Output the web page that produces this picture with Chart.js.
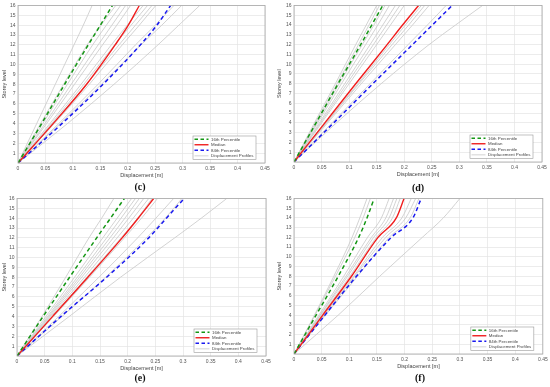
<!DOCTYPE html>
<html>
<head>
<meta charset="utf-8">
<script src="https://cdn.jsdelivr.net/npm/chart.js@4.4.1/dist/chart.umd.min.js"></script>
<style>
  html, body { margin: 0; padding: 0; background: #fff; }
  #wrap { position: relative; width: 550px; height: 387px; overflow: hidden; }
  #wrap canvas { position: absolute; }
  .cap {
    position: absolute; width: 30px; margin-left: -15px; text-align: center;
    font-family: "Liberation Serif", "DejaVu Serif", serif; font-weight: bold;
    font-size: 10px; line-height: 10px; color: #111;
  }
</style>
</head>
<body>
<div id="wrap">
  <canvas id="panel-c" width="275" height="182" style="left:0;top:0"></canvas>
  <canvas id="panel-d" width="275" height="182" style="left:275px;top:0"></canvas>
  <canvas id="panel-e" width="275" height="182" style="left:0;top:193px"></canvas>
  <canvas id="panel-f" width="275" height="182" style="left:275px;top:193px"></canvas>
  <div class="cap" style="left:140px;top:182px">(c)</div>
  <div class="cap" style="left:418px;top:183px">(d)</div>
  <div class="cap" style="left:140px;top:373px">(e)</div>
  <div class="cap" style="left:420px;top:373px">(f)</div>
</div>
<script>
const storeys = [0, 4, 8, 12, 14, 16];

const xTickLabels = ['0', '0.05', '0.1', '0.15', '0.2', '0.25', '0.3', '0.35', '0.4', '0.45'];
const yTickLabels = ['', '1', '2', '3', '4', '5', '6', '7', '8', '9', '10', '11', '12', '13', '14', '15', '16'];
const legendLabels = ['16th Percentile', 'Median', '84th Percentile', 'Displacement Profiles'];

// (c)
const c16 = [0, 0.043, 0.085, 0.128, 0.150, 0.172];
const cMedian = [0, 0.064, 0.125, 0.177, 0.201, 0.221];
const c84 = [0, 0.080, 0.155, 0.223, 0.253, 0.278];
const cProfiles = [
  [0, 0.034, 0.068, 0.102, 0.119, 0.135],
  [0, 0.041, 0.083, 0.126, 0.151, 0.178],
  [0, 0.045, 0.090, 0.136, 0.161, 0.187],
  [0, 0.049, 0.097, 0.146, 0.171, 0.196],
  [0, 0.052, 0.103, 0.154, 0.180, 0.205],
  [0, 0.058, 0.115, 0.170, 0.199, 0.228],
  [0, 0.061, 0.120, 0.176, 0.206, 0.236],
  [0, 0.063, 0.125, 0.184, 0.214, 0.244],
  [0, 0.066, 0.130, 0.190, 0.221, 0.251],
  [0, 0.074, 0.146, 0.214, 0.250, 0.284],
  [0, 0.077, 0.152, 0.224, 0.262, 0.298],
  [0, 0.090, 0.175, 0.255, 0.293, 0.331],
];

// (d)
const d16 = [0, 0.040, 0.080, 0.121, 0.141, 0.161];
const dMedian = [0, 0.056, 0.112, 0.169, 0.197, 0.226];
const d84 = [0, 0.072, 0.143, 0.215, 0.251, 0.287];
const dProfiles = [
  [0, 0.037, 0.075, 0.112, 0.131, 0.150],
  [0, 0.039, 0.078, 0.117, 0.136, 0.155],
  [0, 0.041, 0.082, 0.124, 0.145, 0.165],
  [0, 0.043, 0.086, 0.130, 0.152, 0.173],
  [0, 0.046, 0.092, 0.138, 0.161, 0.184],
  [0, 0.048, 0.096, 0.144, 0.168, 0.192],
  [0, 0.050, 0.100, 0.150, 0.175, 0.200],
  [0, 0.058, 0.116, 0.173, 0.202, 0.231],
  [0, 0.059, 0.118, 0.178, 0.208, 0.237],
  [0, 0.061, 0.122, 0.184, 0.215, 0.245],
  [0, 0.069, 0.138, 0.207, 0.242, 0.276],
  [0, 0.077, 0.158, 0.245, 0.293, 0.342],
];

// (e)
const e16 = [0, 0.047, 0.095, 0.144, 0.169, 0.194];
const eMedian = [0, 0.064, 0.128, 0.190, 0.219, 0.247];
const e84 = [0, 0.079, 0.162, 0.238, 0.270, 0.302];
const eProfiles = [
  [0, 0.045, 0.088, 0.130, 0.153, 0.175],
  [0, 0.052, 0.104, 0.155, 0.181, 0.207],
  [0, 0.055, 0.109, 0.162, 0.188, 0.214],
  [0, 0.057, 0.113, 0.168, 0.195, 0.221],
  [0, 0.059, 0.117, 0.174, 0.202, 0.229],
  [0, 0.061, 0.122, 0.181, 0.210, 0.238],
  [0, 0.064, 0.126, 0.188, 0.218, 0.244],
  [0, 0.066, 0.131, 0.194, 0.225, 0.254],
  [0, 0.075, 0.148, 0.218, 0.251, 0.283],
  [0, 0.081, 0.160, 0.234, 0.268, 0.298],
  [0, 0.094, 0.187, 0.285, 0.333, 0.379],
];

// (f)
const f16 = [0, 0.040, 0.080, 0.117, 0.132, 0.145];
const fMedian = [0, 0.052, 0.104, 0.152, 0.185, 0.199];
const f84 = [0, 0.056, 0.113, 0.176, 0.215, 0.230];
const fProfiles = [
  [0, 0.037, 0.072, 0.105, 0.119, 0.132],
  [0, 0.038, 0.075, 0.110, 0.125, 0.138],
  [0, 0.045, 0.090, 0.133, 0.158, 0.172],
  [0, 0.047, 0.094, 0.140, 0.166, 0.180],
  [0, 0.048, 0.097, 0.144, 0.172, 0.186],
  [0, 0.050, 0.101, 0.149, 0.178, 0.192],
  [0, 0.054, 0.108, 0.160, 0.195, 0.212],
  [0, 0.055, 0.110, 0.166, 0.202, 0.220],
  [0, 0.057, 0.115, 0.172, 0.210, 0.226],
  [0, 0.080, 0.155, 0.232, 0.270, 0.300],
];

const GREEN = 'rgb(20, 150, 20)';
const RED = 'rgb(240, 30, 30)';
const BLUE = 'rgb(25, 25, 240)';
const GREY = 'rgb(200, 200, 200)';
const FONT = 'Liberation Sans, Arial, sans-serif';

function toPoints(xs) {
  return xs.map((x, i) => ({ x: x, y: storeys[i] }));
}

function lineSet(label, xs, color, width, dash) {
  return {
    label: label,
    data: toPoints(xs),
    showLine: true,
    borderColor: color,
    backgroundColor: color,
    borderWidth: width,
    borderDash: dash || [],
    pointRadius: 0,
    cubicInterpolationMode: 'monotone',
  };
}

// frame round the plot area plus the small legend in its lower right corner
const framePlugin = {
  id: 'frameAndLegend',
  afterDatasetsDraw(chart) {
    const a = chart.chartArea;
    const ctx = chart.ctx;
    ctx.save();
    ctx.strokeStyle = '#a8a8a8';
    ctx.lineWidth = 0.8;
    ctx.strokeRect(a.left, a.top, a.right - a.left, a.bottom - a.top);

    const w = 63, h = 23.5;
    const x0 = a.right - 9 - w, y0 = a.bottom - 3.5 - h;
    ctx.fillStyle = '#fff';
    ctx.fillRect(x0, y0, w, h);
    ctx.strokeStyle = '#999';
    ctx.lineWidth = 0.6;
    ctx.strokeRect(x0, y0, w, h);

    const ds = chart.data.datasets;
    ctx.font = '4.4px ' + FONT;
    ctx.textBaseline = 'middle';
    for (let i = 0; i < 4; i++) {
      const d = ds[i];
      const y = y0 + 3.2 + i * 5.55;
      ctx.beginPath();
      ctx.strokeStyle = d.borderColor;
      ctx.lineWidth = d.borderWidth;
      ctx.setLineDash(d.borderDash.length ? [3.5, 2.5] : []);
      ctx.moveTo(x0 + 1.5, y);
      ctx.lineTo(x0 + 15.5, y);
      ctx.stroke();
      ctx.setLineDash([]);
      ctx.fillStyle = '#444';
      ctx.fillText(legendLabels[i], x0 + 18, y + 0.2);
    }
    ctx.restore();
  },
};

function makePanel(id, p16, median, p84, profiles, box) {
  const datasets = [
    lineSet('16th Percentile', p16, GREEN, 1.5, [4, 3]),
    lineSet('Median', median, RED, 1.4),
    lineSet('84th Percentile', p84, BLUE, 1.5, [4, 3]),
  ];
  profiles.forEach((xs, i) => {
    datasets.push(lineSet(i === 0 ? 'Displacement Profiles' : '', xs, GREY, 0.8));
  });

  const canvas = document.getElementById(id);
  const xAxisH = 15.3;
  new Chart(canvas, {
    type: 'scatter',
    data: { datasets: datasets },
    plugins: [framePlugin],
    options: {
      responsive: false,
      animation: false,
      events: [],
      layout: {
        padding: {
          left: 0,
          top: box.top,
          right: canvas.width - box.right,
          bottom: canvas.height - box.bottom - xAxisH,
        },
      },
      plugins: { legend: { display: false }, tooltip: { enabled: false } },
      scales: {
        x: {
          type: 'linear',
          min: 0,
          max: 0.45,
          afterFit: (s) => { s.height = xAxisH; },
          ticks: {
            stepSize: 0.05,
            padding: 2.3,
            maxRotation: 0,
            color: '#555',
            font: { family: FONT, size: 5 },
            callback: (v, i) => xTickLabels[i],
          },
          grid: { color: '#e4e4e4', lineWidth: 0.7, drawTicks: false },
          border: { display: false },
          title: {
            display: true,
            text: 'Displacement [m]',
            color: '#444',
            padding: { top: 0, bottom: 0 },
            font: { family: FONT, size: 5.5 },
          },
        },
        y: {
          type: 'linear',
          min: 0,
          max: 16,
          afterFit: (s) => { s.width = box.left; },
          ticks: {
            stepSize: 1,
            padding: 2.5,
            color: '#555',
            font: { family: FONT, size: 5 },
            callback: (v, i) => yTickLabels[i],
          },
          grid: { color: '#e4e4e4', lineWidth: 0.7, drawTicks: false },
          border: { display: false },
          title: {
            display: true,
            text: 'Storey level',
            color: '#444',
            padding: { top: 1.5, bottom: 0 },
            font: { family: FONT, size: 5.5 },
          },
        },
      },
    },
  });
}

makePanel('panel-c', c16, cMedian, c84, cProfiles, { left: 18, top: 5, right: 265, bottom: 163 });
makePanel('panel-d', d16, dMedian, d84, dProfiles, { left: 19, top: 5, right: 267, bottom: 162 });
makePanel('panel-e', e16, eMedian, e84, eProfiles, { left: 17, top: 5, right: 266, bottom: 163 });
makePanel('panel-f', f16, fMedian, f84, fProfiles, { left: 19, top: 3.5, right: 268, bottom: 161 });
</script>
</body>
</html>
